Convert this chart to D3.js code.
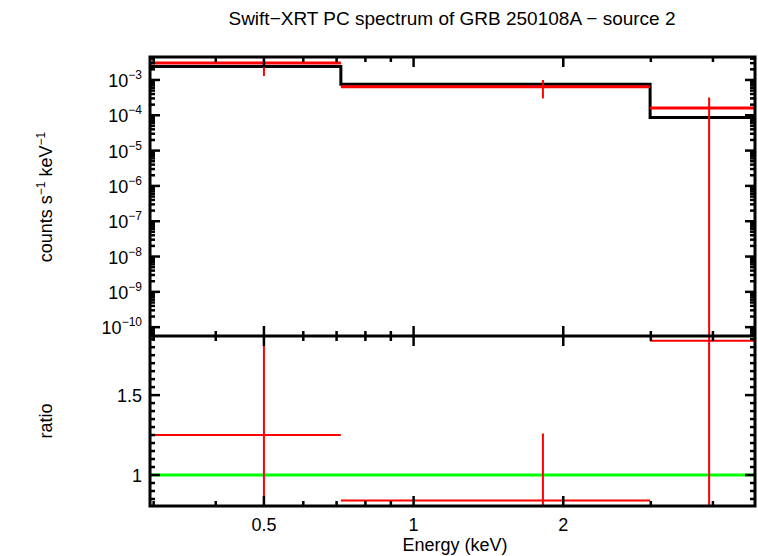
<!DOCTYPE html>
<html><head><meta charset="utf-8">
<script src="https://cdn.jsdelivr.net/npm/d3@7"></script>
<style>body{margin:0;background:#fff}text{font-family:"Liberation Sans",Arial,sans-serif}</style>
</head><body><svg id="c" width="758" height="556"></svg>
<script>
const binLo=[0.295,0.714,2.99];
const binHi=[0.714,2.99,4.86];
const dataX=[0.5,1.82,3.93];
const dataY=[3.0e-3,6.4e-4,1.6e-4];
const dataYLo=[1.3e-3,3.0e-4,1e-12];
const dataYHi=[5.5e-3,1.0e-3,3.2e-4];
const modelY=[2.4e-3,7.6e-4,8.6e-5];
const ratio=[1.25,0.84,1.84];
const ratioLo=[0.5,0.5,0.5];
const ratioHi=[2.5,1.26,2.5];
const xTickVals=[0.5,1,2];
const xTickLabels=["0.5","1","2"];
const yTopExps=[-3,-4,-5,-6,-7,-8,-9,-10];
const ratioTicks=[1,1.5];

const svg=d3.select("#c");
const L=150,R=755,T=57,M=336,B=506;
const x=d3.scaleLog().domain([0.295,4.86]).range([L,R]);
const y1=d3.scaleLog().domain([Math.pow(10,-10.25),Math.pow(10,-2.35)]).range([M,T]);
const y2=d3.scaleLinear().domain([0.806,1.87]).range([B,M]);
svg.append("text").attr("x",452).attr("y",25).attr("text-anchor","middle").attr("font-size",19).text("Swift−XRT PC spectrum of GRB 250108A − source 2");

const clip=svg.append("defs");
clip.append("clipPath").attr("id","ct").append("rect").attr("x",L).attr("y",T).attr("width",R-L).attr("height",M-T);
clip.append("clipPath").attr("id","cb").append("rect").attr("x",L).attr("y",M).attr("width",R-L).attr("height",B-M);

const gt=svg.append("g").attr("clip-path","url(#ct)");
let path=d3.path();
binLo.forEach((lo,i)=>{const xa=x(lo),xb=x(binHi[i]),yy=y1(modelY[i]);if(i===0)path.moveTo(xa,yy);else path.lineTo(xa,yy);path.lineTo(xb,yy);});
gt.append("path").attr("d",path.toString()).attr("fill","none").attr("stroke","#000").attr("stroke-width",3);
binLo.forEach((lo,i)=>{
 gt.append("line").attr("x1",x(lo)).attr("x2",x(binHi[i])).attr("y1",y1(dataY[i])).attr("y2",y1(dataY[i])).attr("stroke","red").attr("stroke-width",3);
 gt.append("line").attr("x1",x(dataX[i])).attr("x2",x(dataX[i])).attr("y1",y1(dataYLo[i])).attr("y2",y1(dataYHi[i])).attr("stroke","red").attr("stroke-width",2);
});
const gb=svg.append("g").attr("clip-path","url(#cb)");
gb.append("line").attr("x1",L).attr("x2",R).attr("y1",y2(1)).attr("y2",y2(1)).attr("stroke","#0f0").attr("stroke-width",3);
binLo.forEach((lo,i)=>{
 gb.append("line").attr("x1",x(lo)).attr("x2",x(binHi[i])).attr("y1",y2(ratio[i])).attr("y2",y2(ratio[i])).attr("stroke","red").attr("stroke-width",2);
 gb.append("line").attr("x1",x(dataX[i])).attr("x2",x(dataX[i])).attr("y1",y2(ratioLo[i])).attr("y2",y2(ratioHi[i])).attr("stroke","red").attr("stroke-width",2);
});

svg.append("rect").attr("x",L).attr("y",T).attr("width",R-L).attr("height",B-T).attr("fill","none").attr("stroke","#000").attr("stroke-width",3);
svg.append("line").attr("x1",L).attr("x2",R).attr("y1",M).attr("y2",M).attr("stroke","#000").attr("stroke-width",3);

const minorX=[];
for(let d=0.1;d<=1;d*=10)for(let k=1;k<10;k++){const v=k*d;if(v>=0.295&&v<=4.86)minorX.push(v);}
[T,M,B].forEach((yy,j)=>{
 minorX.forEach(v=>{const maj=xTickVals.includes(v);const len=maj?10:5;
  const dirs=j===1?[-1,1]:[j===0?1:-1];
  dirs.forEach(dd=>svg.append("line").attr("x1",x(v)).attr("x2",x(v)).attr("y1",yy).attr("y2",yy+dd*len).attr("stroke","#000").attr("stroke-width",2.5));
 });
});
xTickVals.forEach((v,i)=>svg.append("text").attr("x",x(v)).attr("y",B+25).attr("text-anchor","middle").attr("font-size",18).text(xTickLabels[i]));
svg.append("text").attr("x",455).attr("y",551).attr("text-anchor","middle").attr("font-size",18).text("Energy (keV)");

for(let e=-11;e<=-2;e++)for(let k=1;k<10;k++){const v=k*Math.pow(10,e);const yy=y1(v);if(yy<T||yy>M)continue;const len=k===1?10:5;
 [[L,1],[R,-1]].forEach(([xx,d])=>svg.append("line").attr("x1",xx).attr("x2",xx+d*len).attr("y1",yy).attr("y2",yy).attr("stroke","#000").attr("stroke-width",2.5));}
yTopExps.forEach(e=>{const t=svg.append("text").attr("x",L-8).attr("y",y1(Math.pow(10,e))+7).attr("text-anchor","end").attr("font-size",18);
 t.append("tspan").text("10");t.append("tspan").attr("dy",-8).attr("font-size",12).text("−"+(-e));});
const yl=svg.append("text").attr("transform","translate(52,197) rotate(-90)").attr("text-anchor","middle").attr("font-size",18);
yl.append("tspan").text("counts s");yl.append("tspan").attr("dy",-7).attr("font-size",12).text("−1");yl.append("tspan").attr("dy",7).text(" keV");yl.append("tspan").attr("dy",-7).attr("font-size",12).text("−1");

for(let v=0.85;v<=1.86;v+=0.05){const vv=Math.round(v*100)/100;const maj=Math.abs(vv*2-Math.round(vv*2))<1e-6;const len=maj?10:5;const yy=y2(vv);
 [[L,1],[R,-1]].forEach(([xx,d])=>svg.append("line").attr("x1",xx).attr("x2",xx+d*len).attr("y1",yy).attr("y2",yy).attr("stroke","#000").attr("stroke-width",2.5));}
ratioTicks.forEach(v=>svg.append("text").attr("x",L-8).attr("y",y2(v)+7).attr("text-anchor","end").attr("font-size",18).text(v));
svg.append("text").attr("transform","translate(52,421) rotate(-90)").attr("text-anchor","middle").attr("font-size",18).text("ratio");
</script></body></html>
